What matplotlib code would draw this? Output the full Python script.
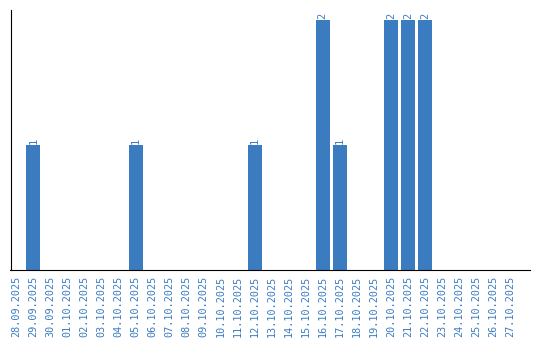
import matplotlib
matplotlib.use("Agg")
import matplotlib.pyplot as plt

dates = ["28.09.2025", "29.09.2025", "30.09.2025", "01.10.2025", "02.10.2025",
         "03.10.2025", "04.10.2025", "05.10.2025", "06.10.2025", "07.10.2025",
         "08.10.2025", "09.10.2025", "10.10.2025", "11.10.2025", "12.10.2025",
         "13.10.2025", "14.10.2025", "15.10.2025", "16.10.2025", "17.10.2025",
         "18.10.2025", "19.10.2025", "20.10.2025", "21.10.2025", "22.10.2025",
         "23.10.2025", "24.10.2025", "25.10.2025", "26.10.2025", "27.10.2025"]
counts = [0, 1, 0, 0, 0, 0, 0, 1, 0, 0,
          0, 0, 0, 0, 1, 0, 0, 0, 2, 1,
          0, 0, 2, 2, 2, 0, 0, 0, 0, 0]

blue = "#3b7cc1"

fig = plt.figure(figsize=(5.4, 3.4), dpi=100)
ax = fig.add_axes([10.5 / 540, 70 / 340, 519.5 / 540, 260 / 340])

x = range(len(dates))
ax.bar(x, counts, width=0.82, color=blue)

# value labels only on non-empty bars
for i, v in enumerate(counts):
    if v > 0:
        ax.text(i, v + 0.01, str(v), rotation=90, ha="center", va="bottom",
                color=blue, fontsize=7.5, family="DejaVu Sans Mono")

ax.set_xlim(-0.35, 30.18)
ax.set_ylim(0, 2.08)
ax.set_xticks(list(x))
ax.set_xticklabels(dates, rotation=90, color=blue, fontsize=7.3,
                   family="DejaVu Sans Mono")
ax.tick_params(axis="x", length=0, pad=4)
ax.set_yticks([])
ax.spines["top"].set_visible(False)
ax.spines["right"].set_visible(False)

fig.savefig("out.png", dpi=100)
